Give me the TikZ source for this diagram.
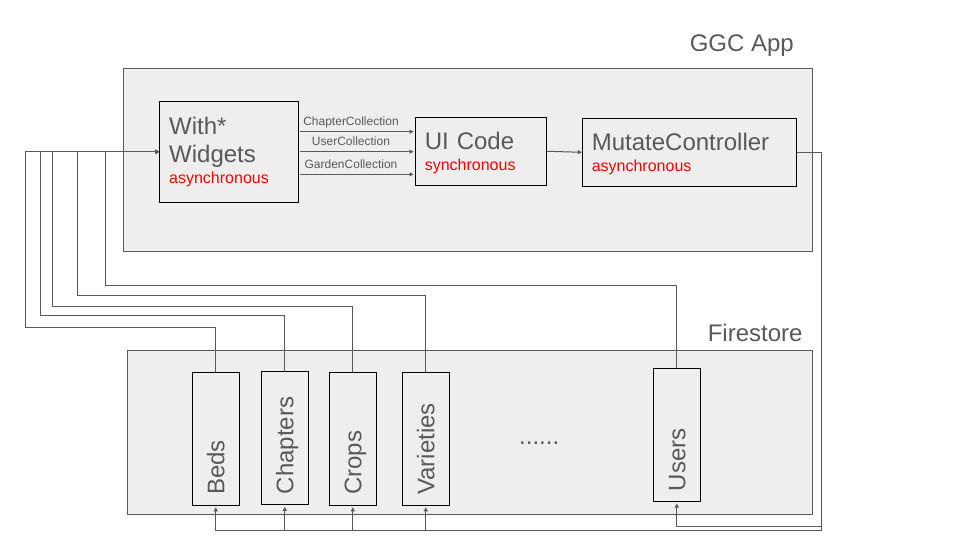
\documentclass[tikz,border=0pt]{standalone}
\usepackage{fontspec}
\setmainfont{Liberation Sans}
\usetikzlibrary{arrows.meta}
\definecolor{ink}{HTML}{595959}
\definecolor{panel}{HTML}{EEEEEE}
\definecolor{hot}{HTML}{FF0000}
\newcommand{\titlesize}{\fontsize{24}{28.4}\selectfont}
\newcommand{\notesize}{\fontsize{16}{20}\selectfont}

\begin{document}
\begin{tikzpicture}[x=1pt,y=-1pt,
  panelbox/.style={draw=ink,fill=panel,line width=1pt},
  codebox/.style={draw=black,fill=panel,line width=1pt,align=left,inner xsep=9.5pt,inner ysep=0pt,font=\titlesize,text=ink},
  coll/.style={draw=black,fill=panel,line width=1pt,rotate=90,minimum width=133pt,minimum height=47pt,
    text width=112pt,align=left,inner xsep=10.5pt,inner ysep=0pt,text height=17.2pt,text depth=0pt,font=\titlesize,text=ink},
  lbl/.style={font=\fontsize{12}{14}\selectfont,text=ink,inner sep=2.5pt,text depth=3pt},
  wire/.style={draw=ink,line width=1pt},
  tip/.style={-{Triangle[length=4pt,width=4pt]}}]
  \useasboundingbox (0,0) rectangle (960,540);
  \draw[panelbox] (123.3,68.7) rectangle (812.5,251.3);
  \draw[panelbox] (127.3,350.3) rectangle (812.7,514.3);
  \node[anchor=base east,font=\titlesize,text=ink,inner sep=0pt] (appname) at (794,51.7) {GGC App};
  \node[anchor=base east,font=\titlesize,text=ink,inner sep=0pt] (storename) at (802.7,341.7) {Firestore};
  % app side
  \node[codebox,minimum width=138.6pt,minimum height=101pt,text width=119.6pt] (with) at (229,151.8)
    {With*\\Widgets\\[-7.4pt]{\color{hot}\notesize asynchronous}};
  \node[codebox,minimum width=131.4pt,minimum height=68pt,text width=112.4pt] (ui) at (481,151.3)
    {\rule{0pt}{21pt}UI Code\\[-8pt]{\color{hot}\notesize synchronous}};
  \node[codebox,minimum width=214.4pt,minimum height=68pt,text width=195.4pt] (mutate) at (689.5,152.3)
    {\rule{0pt}{21pt}MutateController\\[-8pt]{\color{hot}\notesize asynchronous}};
  % firestore side
  \node[coll] (beds) at (215.8,438.8) {Beds};
  \node[coll] (chapters) at (284.8,438.3) {Chapters};
  \node[coll] (crops) at (352.8,438.8) {Crops};
  \node[coll] (varieties) at (425.8,438.8) {Varieties};
  \node[coll] (users) at (676.8,435) {Users};
  \node[anchor=base west,font=\titlesize,text=ink,inner sep=0pt] (more) at (519,444) {......};
  % collections to the widgets
  \foreach \c/\lx/\ly in {beds/25.7/327.3,chapters/40.3/315.3,crops/52.3/306,varieties/77.3/295.5,users/105.3/285.3}
    \draw[wire,tip] (\c.east) |- (\lx,\ly) |- (with.west);
  \draw[wire,tip,shorten <=1.5pt,shorten >=1.3pt] (with.east |- 0,131.7) -- (ui.west |- 0,131.7)
    node[lbl,above,pos=0.45] {ChapterCollection};
  \draw[wire,tip,shorten <=1.5pt,shorten >=1.3pt] (with.east |- 0,151.7) -- (ui.west |- 0,151.7)
    node[lbl,above,pos=0.45] {UserCollection};
  \draw[wire,tip,shorten <=1.5pt,shorten >=1.3pt] (with.east |- 0,174.3) -- (ui.west |- 0,174.3)
    node[lbl,above,pos=0.45] {GardenCollection};
  \draw[wire,tip] (ui.east) -- (mutate.west);
  % writes back to firestore
  \foreach \c in {beds,chapters,crops,varieties}
    \draw[wire,tip,shorten >=1.5pt] (mutate.east) -| (821.5,530) -| (\c.west);
  \draw[wire,tip,shorten >=1.5pt] (mutate.east) -| (821.5,526.5) -| (users.west);
\end{tikzpicture}
\end{document}
